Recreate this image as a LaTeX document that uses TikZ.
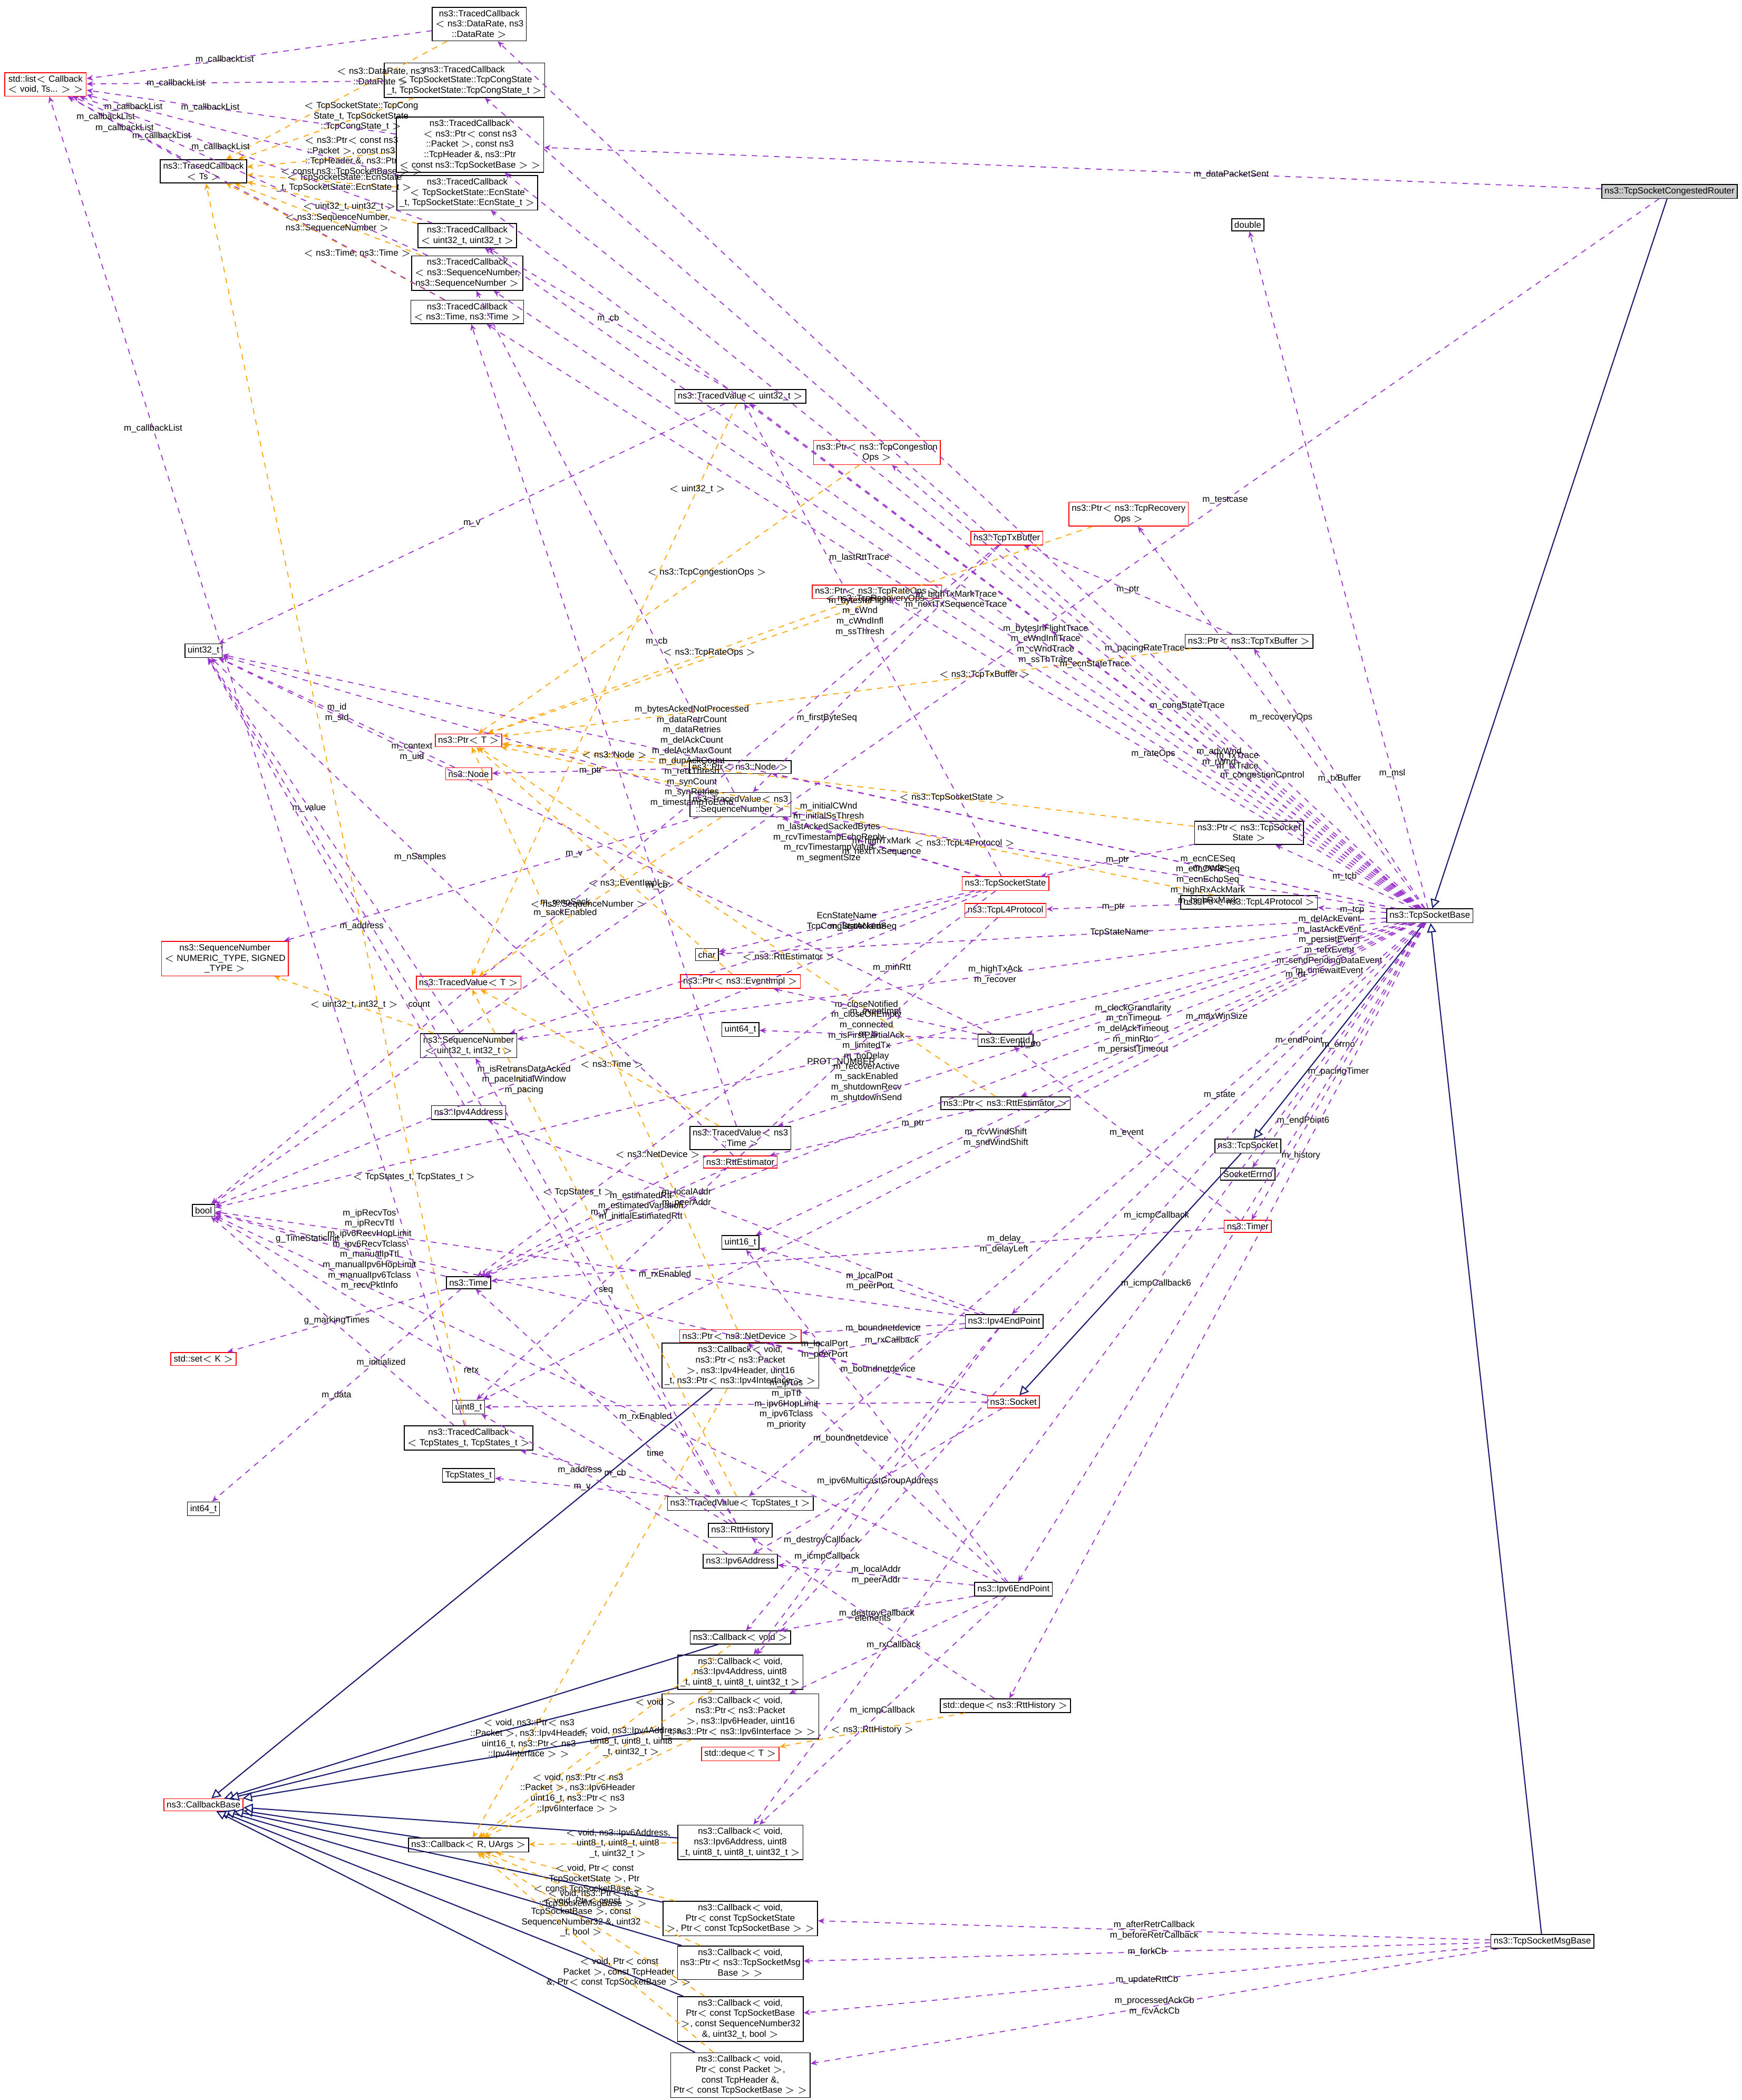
\documentclass[tikz,border=0pt]{standalone}
\usepackage{fontspec}
\setsansfont{Liberation Sans}
\usetikzlibrary{arrows.meta}
\definecolor{usecol}{HTML}{9A32CD}
\definecolor{tplcol}{HTML}{FFA500}
\definecolor{inhcol}{HTML}{191970}
\tikzset{
  cls/.style={draw=black,line width=0.45pt,fill=white,rectangle,inner sep=1.5pt,align=center,
    font=\sffamily\fontsize{4.8}{5.6}\selectfont},
  undoc/.style={cls,draw=red},
  lbl/.style={font=\sffamily\fontsize{4.8}{5.6}\selectfont,align=center,inner sep=1pt,text=black},
  use/.style={draw=usecol,dashed,line width=0.5pt,-{Stealth[length=3.5pt,width=3pt]}},
  tpl/.style={draw=tplcol,dashed,line width=0.5pt,-{Stealth[length=3.5pt,width=3pt]}},
  inh/.style={draw=inhcol,line width=0.6pt,-{Triangle[open,length=5pt,width=5pt,fill=white]}}
}
\begin{document}
\begin{tikzpicture}[x=0.0254cm,y=-0.0254cm]
\useasboundingbox[fill=white] (0,0) rectangle (1300.8,1568.5);
% classes
\node[cls,fill=gray!40] (router) at (1247,143) {ns3::TcpSocketCongestedRouter};
\node[cls] (base) at (1068,684) {ns3::TcpSocketBase};
\node[cls] (msgbase) at (1152,1450) {ns3::TcpSocketMsgBase};
\node[cls] (tcpsock) at (932,856) {ns3::TcpSocket};
\node[undoc] (socket) at (757,1047) {ns3::Socket};
\node[cls] (ep4) at (750,987) {ns3::Ipv4EndPoint};
\node[cls] (ep6) at (757,1187) {ns3::Ipv6EndPoint};
\node[undoc] (list) at (34,63) {std::list$<$ Callback\\$<$ void, Ts... $>$ $>$};
\node[cls] (tcTs) at (152,128) {ns3::TracedCallback\\$<$ Ts $>$};
\node[cls] (tcRate) at (358,18) {ns3::TracedCallback\\$<$ ns3::DataRate, ns3\\::DataRate $>$};
\node[cls] (tcCong) at (347,60) {ns3::TracedCallback\\$<$ TcpSocketState::TcpCongState\\\_t, TcpSocketState::TcpCongState\_t $>$};
\node[cls] (tcPkt) at (351,108) {ns3::TracedCallback\\$<$ ns3::Ptr$<$ const ns3\\::Packet $>$, const ns3\\::TcpHeader \&, ns3::Ptr\\$<$ const ns3::TcpSocketBase $>$ $>$};
\node[cls] (tcEcn) at (349,144) {ns3::TracedCallback\\$<$ TcpSocketState::EcnState\\\_t, TcpSocketState::EcnState\_t $>$};
\node[cls] (tcU32) at (349,176) {ns3::TracedCallback\\$<$ uint32\_t, uint32\_t $>$};
\node[cls] (tcSeq) at (349,204) {ns3::TracedCallback\\$<$ ns3::SequenceNumber,\\ns3::SequenceNumber $>$};
\node[cls] (tcTime) at (349,233) {ns3::TracedCallback\\$<$ ns3::Time, ns3::Time $>$};
\node[cls] (double) at (932,168) {double};
\node[cls] (tvU32) at (553,296) {ns3::TracedValue$<$ uint32\_t $>$};
\node[undoc] (ptrCong) at (655,338) {ns3::Ptr$<$ ns3::TcpCongestion\\Ops $>$};
\node[undoc] (ptrRec) at (843,384) {ns3::Ptr$<$ ns3::TcpRecovery\\Ops $>$};
\node[undoc] (txbuf) at (752,402) {ns3::TcpTxBuffer};
\node[undoc] (ptrRate) at (655,442) {ns3::Ptr$<$ ns3::TcpRateOps $>$};
\node[cls] (ptrTxBuf) at (933,479) {ns3::Ptr$<$ ns3::TcpTxBuffer $>$};
\node[cls] (u32) at (152,486) {uint32\_t};
\node[undoc] (ptrT) at (350,553) {ns3::Ptr$<$ T $>$};
\node[undoc] (node) at (350,578) {ns3::Node};
\node[cls] (ptrNode) at (553,573) {ns3::Ptr$<$ ns3::Node $>$};
\node[cls] (tvSeq) at (553,601) {ns3::TracedValue$<$ ns3\\::SequenceNumber $>$};
\node[cls] (ptrState) at (933,622) {ns3::Ptr$<$ ns3::TcpSocket\\State $>$};
\node[undoc] (state) at (751,660) {ns3::TcpSocketState};
\node[undoc] (l4) at (751,680) {ns3::TcpL4Protocol};
\node[cls] (ptrL4) at (933,674) {ns3::Ptr$<$ ns3::TcpL4Protocol $>$};
\node[undoc] (seqT) at (168,716) {ns3::SequenceNumber\\$<$ NUMERIC\_TYPE, SIGNED\\\_TYPE $>$};
\node[cls] (char) at (528,713) {char};
\node[undoc] (tvT) at (350,734) {ns3::TracedValue$<$ T $>$};
\node[undoc] (ptrEv) at (553,733) {ns3::Ptr$<$ ns3::EventImpl $>$};
\node[cls] (event) at (751,777) {ns3::EventId};
\node[cls] (u64) at (553,769) {uint64\_t};
\node[cls] (seqU) at (350,781) {ns3::SequenceNumber\\$<$ uint32\_t, int32\_t $>$};
\node[cls] (ptrRtt) at (751,824) {ns3::Ptr$<$ ns3::RttEstimator $>$};
\node[cls] (ip4) at (350,831) {ns3::Ipv4Address};
\node[cls] (tvTime) at (553,850) {ns3::TracedValue$<$ ns3\\::Time $>$};
\node[undoc] (rtt) at (553,868) {ns3::RttEstimator};
\node[cls] (errno) at (932,877) {SocketErrno};
\node[undoc] (timer) at (932,916) {ns3::Timer};
\node[cls] (bool) at (152,904) {bool};
\node[cls] (u16) at (553,928) {uint16\_t};
\node[cls] (time) at (350,958) {ns3::Time};
\node[undoc] (ptrDev) at (553,998) {ns3::Ptr$<$ ns3::NetDevice $>$};
\node[undoc] (set) at (152,1015) {std::set$<$ K $>$};
\node[cls] (cbRx4) at (553,1020) {ns3::Callback$<$ void,\\ns3::Ptr$<$ ns3::Packet\\$>$, ns3::Ipv4Header, uint16\\\_t, ns3::Ptr$<$ ns3::Ipv4Interface $>$ $>$};
\node[cls] (u8) at (350,1051) {uint8\_t};
\node[cls] (tcStates) at (350,1074) {ns3::TracedCallback\\$<$ TcpStates\_t, TcpStates\_t $>$};
\node[cls] (states) at (350,1102) {TcpStates\_t};
\node[cls] (tvStates) at (553,1123) {ns3::TracedValue$<$ TcpStates\_t $>$};
\node[cls] (i64) at (152,1127) {int64\_t};
\node[cls] (hist) at (553,1143) {ns3::RttHistory};
\node[cls] (ip6) at (553,1166) {ns3::Ipv6Address};
\node[cls] (cbVoid) at (553,1223) {ns3::Callback$<$ void $>$};
\node[cls] (cbIcmp4) at (553,1249) {ns3::Callback$<$ void,\\ns3::Ipv4Address, uint8\\\_t, uint8\_t, uint8\_t, uint32\_t $>$};
\node[cls] (cbRx6) at (553,1282) {ns3::Callback$<$ void,\\ns3::Ptr$<$ ns3::Packet\\$>$, ns3::Ipv6Header, uint16\\\_t, ns3::Ptr$<$ ns3::Ipv6Interface $>$ $>$};
\node[cls] (dqHist) at (751,1274) {std::deque$<$ ns3::RttHistory $>$};
\node[undoc] (dqT) at (553,1310) {std::deque$<$ T $>$};
\node[undoc] (cbBase) at (152,1348) {ns3::CallbackBase};
\node[cls] (cbR) at (350,1378) {ns3::Callback$<$ R, UArgs $>$};
\node[cls] (cbIcmp6) at (553,1376) {ns3::Callback$<$ void,\\ns3::Ipv6Address, uint8\\\_t, uint8\_t, uint8\_t, uint32\_t $>$};
\node[cls] (cbRetr) at (553,1433) {ns3::Callback$<$ void,\\Ptr$<$ const TcpSocketState\\$>$, Ptr$<$ const TcpSocketBase $>$ $>$};
\node[cls] (cbFork) at (553,1466) {ns3::Callback$<$ void,\\ns3::Ptr$<$ ns3::TcpSocketMsg\\Base $>$ $>$};
\node[cls] (cbRtt) at (553,1508) {ns3::Callback$<$ void,\\Ptr$<$ const TcpSocketBase\\$>$, const SequenceNumber32\\\&, uint32\_t, bool $>$};
\node[cls] (cbAck) at (553,1550) {ns3::Callback$<$ void,\\Ptr$<$ const Packet $>$,\\const TcpHeader \&,\\Ptr$<$ const TcpSocketBase $>$ $>$};
% inheritance
\draw[inh] (router) -- (base);
\draw[inh] (msgbase) -- (base);
\draw[inh] (base) -- (tcpsock);
\draw[inh] (tcpsock) -- (socket);
\foreach \c in {cbRx4,cbVoid,cbIcmp4,cbRx6,cbR,cbIcmp6,cbRetr,cbFork,cbRtt,cbAck}
  \draw[inh] (\c) -- (cbBase);
% template instances
\draw[tpl] (tcRate) -- node[lbl,pos=0.3]{$<$ ns3::DataRate, ns3\\::DataRate $>$} (tcTs);
\draw[tpl] (tcCong) -- node[lbl,pos=0.3]{$<$ TcpSocketState::TcpCong\\State\_t, TcpSocketState\\::TcpCongState\_t $>$} (tcTs);
\draw[tpl] (tcPkt) -- node[lbl,pos=0.3]{$<$ ns3::Ptr$<$ const ns3\\::Packet $>$, const ns3\\::TcpHeader \&, ns3::Ptr\\$<$ const ns3::TcpSocketBase $>$ $>$} (tcTs);
\draw[tpl] (tcEcn) -- node[lbl,pos=0.35]{$<$ TcpSocketState::EcnState\\\_t, TcpSocketState::EcnState\_t $>$} (tcTs);
\draw[tpl] (tcU32) -- node[lbl,pos=0.4]{$<$ uint32\_t, uint32\_t $>$} (tcTs);
\draw[tpl] (tcSeq) -- node[lbl,pos=0.45]{$<$ ns3::SequenceNumber,\\ns3::SequenceNumber $>$} (tcTs);
\draw[tpl] (tcTime) -- node[lbl,pos=0.4]{$<$ ns3::Time, ns3::Time $>$} (tcTs);
\draw[tpl] (tcStates) -- node[lbl,pos=0.2]{$<$ TcpStates\_t, TcpStates\_t $>$} (tcTs);
\draw[tpl] (tvU32) -- node[lbl,pos=0.15]{$<$ uint32\_t $>$} (tvT);
\draw[tpl] (tvSeq) -- node[lbl,pos=0.55]{$<$ ns3::SequenceNumber $>$} (tvT);
\draw[tpl] (tvTime) -- node[lbl,pos=0.45]{$<$ ns3::Time $>$} (tvT);
\draw[tpl] (tvStates) -- node[lbl,pos=0.6]{$<$ TcpStates\_t $>$} (tvT);
\draw[tpl] (ptrCong) -- node[lbl,pos=0.4]{$<$ ns3::TcpCongestionOps $>$} (ptrT);
\draw[tpl] (ptrRec) -- node[lbl,pos=0.35]{$<$ ns3::TcpRecoveryOps $>$} (ptrT);
\draw[tpl] (ptrRate) -- node[lbl,pos=0.4]{$<$ ns3::TcpRateOps $>$} (ptrT);
\draw[tpl] (ptrTxBuf) -- node[lbl,pos=0.3]{$<$ ns3::TcpTxBuffer $>$} (ptrT);
\draw[tpl] (ptrState) -- node[lbl,pos=0.35]{$<$ ns3::TcpSocketState $>$} (ptrT);
\draw[tpl] (ptrNode) -- node[lbl,pos=0.4]{$<$ ns3::Node $>$} (ptrT);
\draw[tpl] (ptrL4) -- node[lbl,pos=0.35]{$<$ ns3::TcpL4Protocol $>$} (ptrT);
\draw[tpl] (ptrEv) -- node[lbl,pos=0.4]{$<$ ns3::EventImpl $>$} (ptrT);
\draw[tpl] (ptrRtt) -- node[lbl,pos=0.4]{$<$ ns3::RttEstimator $>$} (ptrT);
\draw[tpl] (ptrDev) -- node[lbl,pos=0.3]{$<$ ns3::NetDevice $>$} (ptrT);
\draw[tpl] (seqU) -- node[lbl]{$<$ uint32\_t, int32\_t $>$} (seqT);
\draw[tpl] (dqHist) -- node[lbl]{$<$ ns3::RttHistory $>$} (dqT);
\draw[tpl] (cbVoid) -- node[lbl,pos=0.3]{$<$ void $>$} (cbR);
\draw[tpl] (cbIcmp4) -- node[lbl,pos=0.35]{$<$ void, ns3::Ipv4Address,\\uint8\_t, uint8\_t, uint8\\\_t, uint32\_t $>$} (cbR);
\draw[tpl] (cbRx4) -- node[lbl,pos=0.78]{$<$ void, ns3::Ptr$<$ ns3\\::Packet $>$, ns3::Ipv4Header,\\uint16\_t, ns3::Ptr$<$ ns3\\::Ipv4Interface $>$ $>$} (cbR);
\draw[tpl] (cbRx6) -- node[lbl,pos=0.55]{$<$ void, ns3::Ptr$<$ ns3\\::Packet $>$, ns3::Ipv6Header\\uint16\_t, ns3::Ptr$<$ ns3\\::Ipv6Interface $>$ $>$} (cbR);
\draw[tpl] (cbIcmp6) -- node[lbl,pos=0.4]{$<$ void, ns3::Ipv6Address,\\uint8\_t, uint8\_t, uint8\\\_t, uint32\_t $>$} (cbR);
\draw[tpl] (cbRetr) -- node[lbl,pos=0.45]{$<$ void, Ptr$<$ const\\TcpSocketState $>$, Ptr\\$<$ const TcpSocketBase $>$ $>$} (cbR);
\draw[tpl] (cbFork) -- node[lbl,pos=0.5]{$<$ void, ns3::Ptr$<$ ns3\\::TcpSocketMsgBase $>$ $>$} (cbR);
\draw[tpl] (cbRtt) -- node[lbl,pos=0.55]{$<$ void, Ptr$<$ const\\TcpSocketBase $>$, const\\SequenceNumber32 \&, uint32\\\_t, bool $>$} (cbR);
\draw[tpl] (cbAck) -- node[lbl,pos=0.4]{$<$ void, Ptr$<$ const\\Packet $>$, const TcpHeader\\\&, Ptr$<$ const TcpSocketBase $>$ $>$} (cbR);
% callback lists
\foreach \c/\p in {tcTs/0.5,tcRate/0.6,tcCong/0.7,tcPkt/0.6,tcEcn/0.85,tcU32/0.6,tcSeq/0.75,tcTime/0.9,tcStates/0.75}
  \draw[use] (\c) -- node[lbl,pos=\p]{m\_callbackList} (list);
% members of the router and message base
\draw[use] (router) -- node[lbl,pos=0.35]{m\_dataPacketSent} (tcPkt);
\draw[use] (router) -- node[lbl,pos=0.3]{m\_testcase} (bool);
\draw[use] (msgbase) -- node[lbl]{m\_afterRetrCallback\\m\_beforeRetrCallback} (cbRetr);
\draw[use] (msgbase) -- node[lbl]{m\_forkCb} (cbFork);
\draw[use] (msgbase) -- node[lbl]{m\_updateRttCb} (cbRtt);
\draw[use] (msgbase) -- node[lbl]{m\_processedAckCb\\m\_rcvAckCb} (cbAck);
% members of the socket base
\draw[use] (base) -- node[lbl,pos=0.3]{m\_pacingRateTrace} (tcRate);
\draw[use] (base) -- node[lbl,pos=0.25]{m\_congStateTrace} (tcCong);
\draw[use] (base) -- node[lbl,pos=0.2]{m\_rxTrace\\m\_txTrace} (tcPkt);
\draw[use] (base) -- node[lbl,pos=0.35]{m\_ecnStateTrace} (tcEcn);
\draw[use] (base) -- node[lbl,pos=0.2]{m\_msl} (double);
\draw[use] (base) -- node[lbl,pos=0.4]{m\_bytesInFlightTrace\\m\_cWndInflTrace\\m\_cWndTrace\\m\_ssThTrace} (tcU32);
\draw[use] (base) -- node[lbl,pos=0.5]{m\_highTxMarkTrace\\m\_nextTxSequenceTrace} (tcSeq);
\draw[use] (base) -- node[lbl,pos=0.6]{m\_lastRttTrace} (tcTime);
\draw[use] (base) -- node[lbl,pos=0.6]{m\_bytesAckedNotProcessed\\m\_dataRetrCount\\m\_dataRetries\\m\_delAckCount\\m\_delAckMaxCount\\m\_dupAckCount\\m\_retxThresh\\m\_synCount\\m\_synRetries\\m\_timestampToEcho} (u32);
\draw[use] (base) -- node[lbl,pos=0.3]{m\_advWnd\\m\_rWnd} (tvU32);
\draw[use] (base) -- node[lbl,pos=0.3]{m\_congestionControl} (ptrCong);
\draw[use] (base) -- node[lbl]{m\_recoveryOps} (ptrRec);
\draw[use] (base) -- node[lbl]{m\_rateOps} (ptrRate);
\draw[use] (base) -- node[lbl]{m\_txBuffer} (ptrTxBuf);
\draw[use] (base) -- node[lbl,pos=0.3]{m\_node} (ptrNode);
\draw[use] (base) -- node[lbl]{m\_tcb} (ptrState);
\draw[use] (base) -- node[lbl]{m\_tcp} (ptrL4);
\draw[use] (base) -- node[lbl,pos=0.3]{m\_ecnCESeq\\m\_ecnCWRSeq\\m\_ecnEchoSeq\\m\_highRxAckMark\\m\_highRxMark} (tvSeq);
\draw[use] (base) -- node[lbl,pos=0.45]{m\_closeNotified\\m\_closeOnEmpty\\m\_connected\\m\_isFirstPartialAck\\m\_limitedTx\\m\_noDelay\\m\_recoverActive\\m\_sackEnabled\\m\_shutdownRecv\\m\_shutdownSend} (bool);
\draw[use] (base) -- node[lbl,pos=0.2]{m\_delAckEvent\\m\_lastAckEvent\\m\_persistEvent\\m\_retxEvent\\m\_sendPendingDataEvent\\m\_timewaitEvent} (event);
\draw[use] (base) -- node[lbl,pos=0.3]{m\_rtt} (ptrRtt);
\draw[use] (base) -- node[lbl,pos=0.3]{m\_endPoint} (ep4);
\draw[use] (base) -- node[lbl]{m\_errno} (errno);
\draw[use] (base) -- node[lbl]{m\_pacingTimer} (timer);
\draw[use] (base) -- node[lbl,pos=0.45]{m\_highTxAck\\m\_recover} (seqU);
\draw[use] (base) -- node[lbl,pos=0.6]{m\_rto} (tvTime);
\draw[use] (base) -- node[lbl,pos=0.3]{m\_maxWinSize} (u16);
\draw[use] (base) -- node[lbl,pos=0.3]{m\_state} (tvStates);
\draw[use] (base) -- node[lbl,pos=0.3]{m\_endPoint6} (ep6);
\draw[use] (base) -- node[lbl,pos=0.4]{m\_icmpCallback} (cbIcmp4);
\draw[use] (base) -- node[lbl,pos=0.3]{m\_history} (dqHist);
\draw[use] (base) -- node[lbl,pos=0.3]{m\_clockGranularity\\m\_cnTimeout\\m\_delAckTimeout\\m\_minRto\\m\_persistTimeout} (time);
\draw[use] (base) -- node[lbl,pos=0.45]{m\_rcvWindShift\\m\_sndWindShift} (u8);
\draw[use] (base) -- node[lbl,pos=0.4]{m\_icmpCallback6} (cbIcmp6);
\draw[use] (base) -- node[lbl,pos=0.4]{TcpStateName} (char);
% members of the socket state
\draw[use] (state) -- node[lbl,pos=0.2]{m\_initialCWnd\\m\_initialSsThresh\\m\_lastAckedSackedBytes\\m\_rcvTimestampEchoReply\\m\_rcvTimestampValue\\m\_segmentSize} (u32);
\draw[use] (state) -- node[lbl,pos=0.55]{m\_bytesInFlight\\m\_cWnd\\m\_cWndInfl\\m\_ssThresh} (tvU32);
\draw[use] (state) -- node[lbl]{m\_highTxMark\\m\_nextTxSequence} (tvSeq);
\draw[use] (state) -- node[lbl]{EcnStateName\\TcpCongStateName} (char);
\draw[use] (state) -- node[lbl,pos=0.25]{m\_lastAckedSeq} (seqU);
\draw[use] (state) -- node[lbl,pos=0.2]{m\_minRtt} (time);
\draw[use] (state) -- node[lbl,pos=0.6]{m\_isRetransDataAcked\\m\_paceInitialWindow\\m\_pacing} (bool);
% other members
\draw[use] (tvU32) -- node[lbl]{m\_cb} (tcU32);
\draw[use] (tvSeq) -- node[lbl,pos=0.3]{m\_cb} (tcSeq);
\draw[use] (tvTime) -- node[lbl,pos=0.3]{m\_cb} (tcTime);
\draw[use] (tvStates) -- node[lbl]{m\_cb} (tcStates);
\draw[use] (tvU32) -- node[lbl]{m\_v} (u32);
\draw[use] (tvSeq) -- node[lbl,pos=0.3]{m\_v} (seqT);
\draw[use] (tvTime) -- node[lbl]{m\_v} (time);
\draw[use] (tvStates) -- node[lbl]{m\_v} (states);
\draw[use] (seqU) -- node[lbl,pos=0.6]{m\_value} (u32);
\draw[use] (node) -- node[lbl]{m\_id\\m\_sid} (u32);
\draw[use] (ptrNode) -- node[lbl]{m\_ptr} (node);
\draw[use] (ptrState) -- node[lbl]{m\_ptr} (state);
\draw[use] (ptrL4) -- node[lbl]{m\_ptr} (l4);
\draw[use] (ptrTxBuf) -- node[lbl]{m\_ptr} (txbuf);
\draw[use] (ptrRtt) -- node[lbl,pos=0.3]{m\_ptr} (rtt);
\draw[use] (txbuf) -- node[lbl,pos=0.7]{m\_firstByteSeq} (tvSeq);
\draw[use] (txbuf) -- node[lbl,pos=0.55]{m\_renoSack\\m\_sackEnabled} (bool);
\draw[use] (event) -- node[lbl]{m\_eventImpl} (ptrEv);
\draw[use] (event) -- node[lbl]{m\_ts} (u64);
\draw[use] (event) -- node[lbl,pos=0.75]{m\_context\\m\_uid} (u32);
\draw[use] (rtt) -- node[lbl,pos=0.35]{m\_estimatedRtt\\m\_estimatedVariation\\m\_initialEstimatedRtt} (time);
\draw[use] (rtt) -- node[lbl,pos=0.6]{m\_nSamples} (u32);
\draw[use] (ip4) -- node[lbl,pos=0.4]{m\_address} (u32);
\draw[use] (ip6) -- node[lbl,pos=0.6]{m\_address} (u8);
\draw[use] (ep4) -- node[lbl,pos=0.6]{m\_localAddr\\m\_peerAddr} (ip4);
\draw[use] (ep4) -- node[lbl]{m\_localPort\\m\_peerPort} (u16);
\draw[use] (ep4) -- node[lbl]{m\_boundnetdevice} (ptrDev);
\draw[use] (ep4) -- node[lbl]{m\_rxCallback} (cbRx4);
\draw[use] (ep4) -- node[lbl,pos=0.7]{m\_destroyCallback} (cbVoid);
\draw[use] (ep4) -- node[lbl,pos=0.7]{m\_icmpCallback} (cbIcmp4);
\draw[use] (ep4) -- node[lbl,pos=0.4]{m\_rxEnabled} (bool);
\draw[use] (ep6) -- node[lbl]{m\_localAddr\\m\_peerAddr} (ip6);
\draw[use] (ep6) -- node[lbl,pos=0.7]{m\_localPort\\m\_peerPort} (u16);
\draw[use] (ep6) -- node[lbl,pos=0.6]{m\_boundnetdevice} (ptrDev);
\draw[use] (ep6) -- node[lbl]{m\_rxCallback} (cbRx6);
\draw[use] (ep6) -- node[lbl]{m\_destroyCallback} (cbVoid);
\draw[use] (ep6) -- node[lbl]{m\_icmpCallback} (cbIcmp6);
\draw[use] (ep6) -- node[lbl,pos=0.45]{m\_rxEnabled} (bool);
\draw[use] (socket) -- node[lbl]{m\_boundnetdevice} (ptrDev);
\draw[use] (socket) -- node[lbl,pos=0.4]{m\_ipTos\\m\_ipTtl\\m\_ipv6HopLimit\\m\_ipv6Tclass\\m\_priority} (u8);
\draw[use] (socket) -- node[lbl,pos=0.8]{m\_ipRecvTos\\m\_ipRecvTtl\\m\_ipv6RecvHopLimit\\m\_ipv6RecvTclass\\m\_manualIpTtl\\m\_manualIpv6HopLimit\\m\_manualIpv6Tclass\\m\_recvPktInfo} (bool);
\draw[use] (socket) -- node[lbl]{m\_ipv6MulticastGroupAddress} (ip6);
\draw[use] (hist) -- node[lbl,pos=0.3]{time} (time);
\draw[use] (hist) -- node[lbl,pos=0.6]{count} (u32);
\draw[use] (hist) -- node[lbl,pos=0.5]{retx} (bool);
\draw[use] (hist) -- node[lbl,pos=0.5]{seq} (seqU);
\draw[use] (dqHist) -- node[lbl]{elements} (hist);
\draw[use] (time) -- node[lbl]{g\_markingTimes} (set);
\draw[use] (time) -- node[lbl]{m\_data} (i64);
\draw[use] (time) -- node[lbl,pos=0.6]{g\_TimeStaticInit} (bool);
\draw[use] (timer) -- node[lbl,pos=0.3]{m\_delay\\m\_delayLeft} (time);
\draw[use] (timer) -- node[lbl]{m\_event} (event);
\draw[use] (l4) -- node[lbl,pos=0.3]{PROT\_NUMBER} (u8);
\draw[use] (tcStates) -- node[lbl,pos=0.3]{m\_initialized} (bool);
\end{tikzpicture}
\end{document}
